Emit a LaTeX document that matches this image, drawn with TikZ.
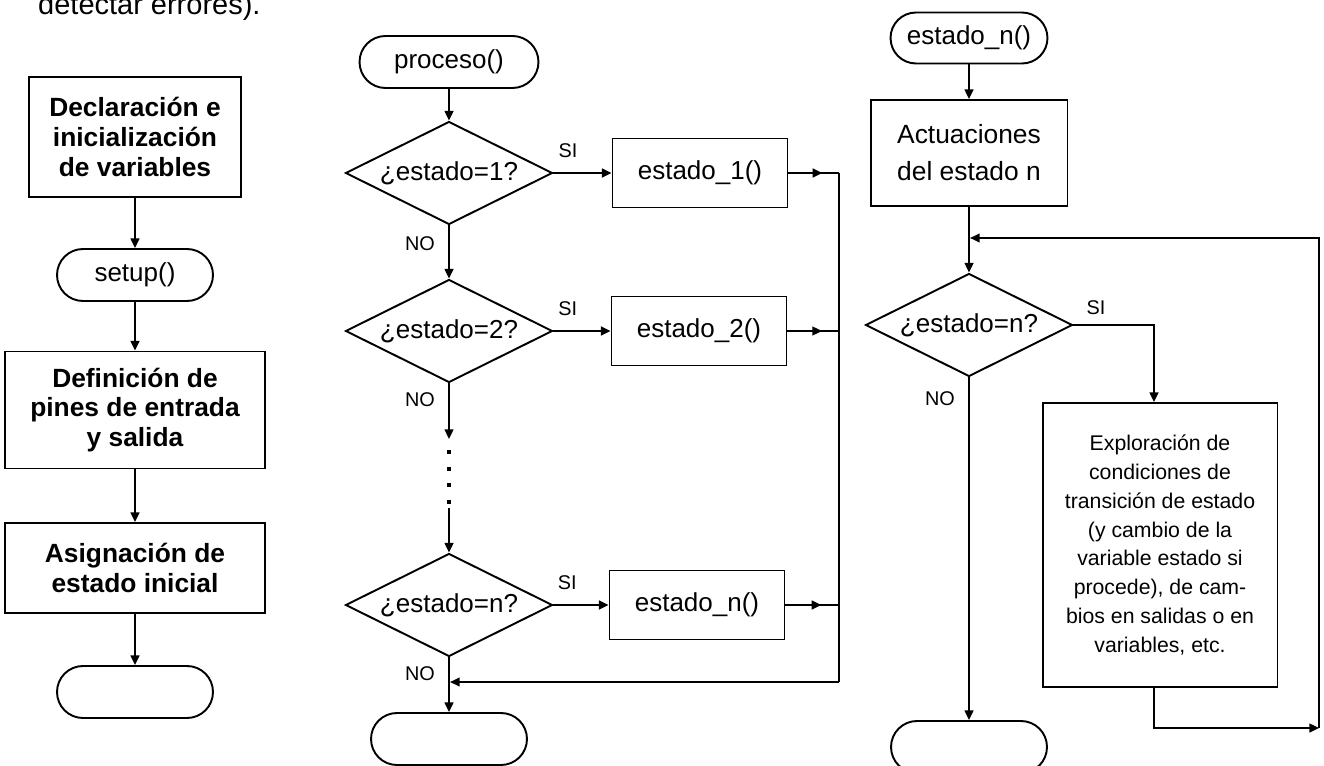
\documentclass[tikz,border=0pt]{standalone}
\usepackage{fontspec}
\setmainfont{Liberation Sans}
\usetikzlibrary{shapes.geometric, arrows.meta, decorations.markings}

\begin{document}
\begin{tikzpicture}[
    x=0.02cm, y=-0.02cm,
    terminal/.style={draw, line width=1.1pt, rounded corners=0.52cm, minimum width=3.12cm, minimum height=1.04cm, font=\fontsize{14.8}{17}\selectfont},
    box/.style={draw, line width=1.1pt, align=center, font=\fontsize{14.8}{17}\selectfont},
    boldbox/.style={box, font=\fontsize{15}{17}\selectfont\bfseries, minimum width=5.2cm},
    decision/.style={draw, diamond, aspect=2, inner sep=0pt, line width=1.1pt, minimum width=4.14cm, minimum height=2.06cm, font=\fontsize{14.8}{17}\selectfont},
    lbl/.style={inner sep=0pt, font=\fontsize{11.3}{13}\selectfont},
    arrow/.style={-{Triangle[length=5.5pt, width=5pt]}, line width=1.1pt},
    midarrow/.style={line width=1.1pt, postaction={decorate}, decoration={markings, mark=at position 0.67 with {\arrow{Triangle[length=5.5pt, width=5pt]}}}},
    dotline/.style={line width=2.3pt, dash pattern=on 2.3pt off 7.2pt, shorten <=6.2pt, shorten >=2.3pt}
]
\useasboundingbox (0,0) rectangle (1324,766);
\clip (0,0) rectangle (1324,766);

\node[anchor=base west, font=\fontsize{16.5}{19}\selectfont] (intro) at (32,15) {detectar errores).};

% setup
\node[boldbox, minimum width=4.24cm, minimum height=2.4cm] (decl) at (135,137) {Declaración e\\inicialización\\de variables};
\node[terminal] (setup) at (135,275) {setup()};
\node[boldbox, minimum height=2.34cm] (pines) at (135,410) {Definición de\\pines de entrada\\y salida};
\node[boldbox, minimum height=1.8cm] (asig) at (135,568) {Asignación de\\estado inicial};
\node[terminal] (finL) at (135,692) {};

\draw[arrow] (decl) -- (setup);
\draw[arrow] (setup) -- (pines);
\draw[arrow] (pines) -- (asig);
\draw[arrow] (asig) -- (finL);

% proceso
\node[terminal, minimum width=3.58cm] (proc) at (449,62) {proceso()};
\node[decision] (q1) at (449,173) {¿estado=1?};
\node[box, minimum width=3.5cm, minimum height=1.38cm] (est1) at (700,173) {estado\_1()};
\node[decision] (q2) at (449,331) {¿estado=2?};
\node[box, minimum width=3.5cm, minimum height=1.38cm] (est2) at (699,331) {estado\_2()};
\node[decision] (qn) at (449,605) {¿estado=n?};
\node[box, minimum width=3.5cm, minimum height=1.38cm] (estn) at (697,605) {estado\_n()};
\node[terminal] (finM) at (449,739) {};
\coordinate (dotA) at (449,439);
\coordinate (dotB) at (449,508);
\coordinate (busT) at (839,173);
\coordinate (bus2) at (839,331);
\coordinate (busN) at (839,605);
\coordinate (busB) at (839,682);

\draw[arrow] (proc) -- (q1);
\draw[arrow] (q1) -- node[lbl, pos=0.25, above=8pt] (si1) {SI} (est1);
\draw[arrow] (q1) -- node[lbl, pos=0.35, left=7.5pt] (no1) {NO} (q2);
\draw[arrow] (q2) -- node[lbl, pos=0.25, above=8pt] (si2) {SI} (est2);
\draw[arrow] (q2) -- node[lbl, pos=0.3, left=7.5pt] (no2) {NO} (dotA);
\draw[dotline] (dotA) -- (dotB);
\draw[arrow] (dotB) -- (qn);
\draw[arrow] (qn) -- node[lbl, pos=0.25, above=8pt] (si3) {SI} (estn);
\draw[arrow] (qn) -- node[lbl, pos=0.29, left=7.5pt] (no3) {NO} (finM);
\draw[midarrow] (est1) -- (busT);
\draw[midarrow] (est2) -- (bus2);
\draw[midarrow] (estn) -- (busN);
\draw[line width=1.1pt] (busT) -- (busB);
\draw[arrow, shorten >=0.6pt] (busB) -- (busB -| qn.south);

% estado_n
\node[terminal, minimum width=3.14cm, minimum height=1.02cm, rounded corners=0.51cm] (estado) at (969,38) {estado\_n()};
\node[box, align=left, minimum width=3.94cm, minimum height=2.12cm, font=\fontsize{15}{21}\selectfont] (act) at (969,153) {Actuaciones\\del estado n};
\node[decision] (qr) at (969,325) {¿estado=n?};
\node[box, minimum width=4.7cm, minimum height=5.68cm, font=\fontsize{12.1}{16.4}\selectfont] (expl) at (1160,545) {Exploración de\\condiciones de\\transición de estado\\(y cambio de la\\variable estado si\\procede), de cam-\\bios en salidas o en\\variables, etc.};
\node[terminal] (finR) at (969,747) {};
\coordinate (loopT) at (1319,238);
\coordinate (loopB) at (1319,728);

\draw[arrow] (estado) -- (act);
\draw[arrow] (act) -- (qr);
\draw[arrow] (qr.east) -| node[lbl, pos=0.14, above=5.5pt] (si4) {SI} ([xshift=-0.12cm]expl.north);
\draw[arrow] (qr) -- node[lbl, pos=0.062, left=7.5pt] (no4) {NO} (finR);
\draw[arrow] ([xshift=-0.12cm]expl.south) |- (loopB);
\draw[arrow, shorten >=0.6pt] (loopB) -- (loopT) -- (loopT -| act.south);
\end{tikzpicture}
\end{document}
